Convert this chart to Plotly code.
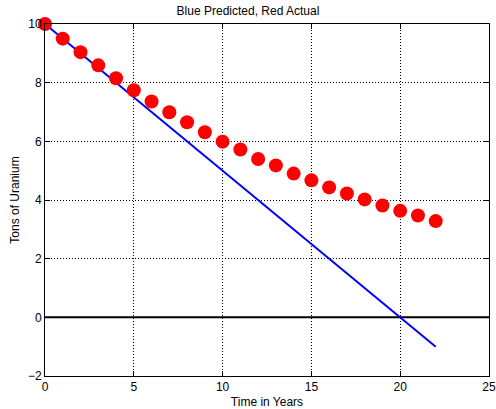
import plotly.graph_objects as go

years = list(range(0, 23))
actual = [10.0, 9.5, 9.04, 8.59, 8.15, 7.74, 7.36, 6.99, 6.65, 6.31, 5.99, 5.72,
          5.40, 5.18, 4.90, 4.67, 4.43, 4.22, 4.02, 3.81, 3.63, 3.47, 3.28]
pred_x = [0, 22]
pred_y = [10, -1]
zero_x = [0, 25]
zero_y = [0, 0]

fig = go.Figure()
fig.add_trace(go.Scatter(x=zero_x, y=zero_y, mode="lines",
                         line=dict(color="black", width=2), hoverinfo="skip"))
fig.add_trace(go.Scatter(x=pred_x, y=pred_y, mode="lines",
                         line=dict(color="#0000ff", width=2)))
fig.add_trace(go.Scatter(x=years, y=actual, mode="markers", cliponaxis=False,
                         marker=dict(color="#ff0000", size=14, line=dict(width=0))))

axis_common = dict(
    showgrid=True, gridcolor="black", gridwidth=1, griddash="1px,2px",
    showline=True, linecolor="black", linewidth=1, mirror="ticks",
    ticks="inside", ticklen=5, tickcolor="black", zeroline=False,
    automargin=False,
    tickfont=dict(size=12, color="black", family="Liberation Sans"),
)

fig.update_layout(
    width=496, height=409,
    margin=dict(l=45, r=7, t=24, b=33),
    paper_bgcolor="white", plot_bgcolor="white",
    showlegend=False,
    font=dict(family="Liberation Sans", size=12, color="black"),
    title=dict(text="Blue Predicted, Red Actual", x=0.5, xanchor="center",
               y=1 - 11 / 409, yanchor="middle", font=dict(size=12)),
    xaxis=dict(range=[0, 25], tickvals=[0, 5, 10, 15, 20, 25],
               title=dict(text="Time in Years", standoff=5, font=dict(size=12)),
               **axis_common),
    yaxis=dict(range=[-2, 10], tickvals=[-2, 0, 2, 4, 6, 8, 10],
               title=dict(text="Tons of Uranium", standoff=5, font=dict(size=12)),
               **axis_common),
)

fig.write_html("out.html", config={"displayModeBar": False},
               post_script="document.body.style.margin='0';document.body.style.overflow='hidden';")
